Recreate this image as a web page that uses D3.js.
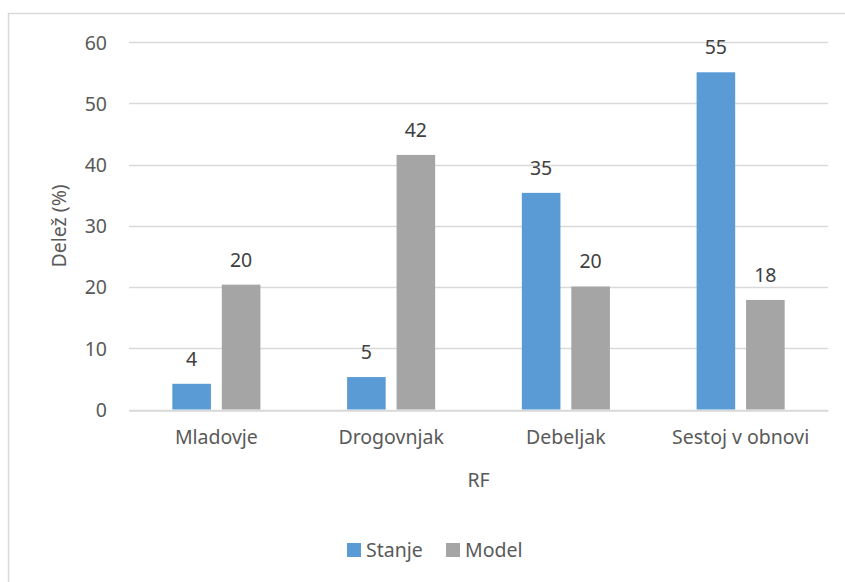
<!DOCTYPE html>
<html>
<head>
<meta charset="utf-8">
<script src="https://cdn.jsdelivr.net/npm/d3@7"></script>
<style>
  body { margin: 0; background: #fff; }
  svg text { font-family: "Noto Sans", "Open Sans", sans-serif; fill: #595959; }
</style>
</head>
<body>
<svg width="845" height="582"></svg>
<script>
// data
var categories = ["Mladovje", "Drogovnjak", "Debeljak", "Sestoj v obnovi"];
var series = ["Stanje", "Model"];
var stanje = [4.2, 5.3, 35.4, 55.1];
var model = [20.4, 41.6, 20.1, 17.9];
var yTicks = [0, 10, 20, 30, 40, 50, 60];

var colours = { "Stanje": "#5b9bd5", "Model": "#a5a5a5" };

var svg = d3.select("svg"),
    width = +svg.attr("width"),
    height = +svg.attr("height");

var fontSize = "19.5px";

// chart border (right and bottom edges fall outside the picture)
svg.append("rect")
    .attr("x", 8.5).attr("y", 13.5)
    .attr("width", 900).attr("height", 700)
    .attr("fill", "none")
    .attr("stroke", "#d9d9d9")
    .attr("stroke-width", 1.5);

var plotLeft = 129, plotRight = 828, plotTop = 42.3, plotBottom = 409.5;

var x0 = d3.scaleBand()
    .domain(categories)
    .range([plotLeft, plotRight]);

var x1 = d3.scaleBand()
    .domain(series)
    .range([x0.bandwidth() * 0.248, x0.bandwidth() * 0.752])
    .paddingInner(0.22);

var y = d3.scaleLinear()
    .domain([0, 60])
    .range([plotBottom, plotTop]);

// gridlines
svg.append("g")
    .selectAll("line")
    .data(yTicks)
    .enter()
    .append("line")
        .attr("x1", plotLeft).attr("x2", plotRight)
        .attr("y1", d => Math.round(y(d)) + 0.5)
        .attr("y2", d => Math.round(y(d)) + 0.5)
        .attr("stroke", "#d9d9d9")
        .attr("stroke-width", 1.3);

// y tick labels
var yAxis = d3.axisLeft(y).tickValues(yTicks).tickSize(0).tickPadding(0);
var gy = svg.append("g")
    .attr("transform", "translate(107,0)")
    .call(yAxis);
gy.select(".domain").remove();
gy.selectAll("text")
    .style("font-size", fontSize)
    .attr("fill", "#595959")
    .attr("dy", "0.35em");

// rows of bars
var rows = categories.map((c, i) => ({ cat: c, values: [
    { key: "Stanje", value: stanje[i] },
    { key: "Model", value: model[i] }
] }));

var groups = svg.append("g")
    .selectAll("g")
    .data(rows)
    .enter()
    .append("g")
        .attr("transform", d => "translate(" + x0(d.cat) + ",0)");

groups.selectAll("rect")
    .data(d => d.values)
    .enter()
    .append("rect")
        .attr("x", d => x1(d.key))
        .attr("width", x1.bandwidth())
        .attr("y", d => y(d.value))
        .attr("height", d => y(0) - y(d.value))
        .attr("fill", d => colours[d.key]);

// data labels
groups.selectAll("text.lbl")
    .data(d => d.values)
    .enter()
    .append("text")
        .attr("class", "lbl")
        .attr("x", d => x1(d.key) + x1.bandwidth() / 2)
        .attr("y", d => y(d.value) - 18)
        .attr("text-anchor", "middle")
        .style("font-size", fontSize)
        .style("fill", "#404040")
        .text(d => d3.format(".0f")(d.value));

// x axis
var xAxis = d3.axisBottom(x0).tickSize(0).tickPadding(20);
var gx = svg.append("g")
    .attr("transform", "translate(0," + (Math.round(plotBottom) + 0.5) + ")")
    .call(xAxis);
gx.select(".domain")
    .attr("stroke", "#d9d9d9")
    .attr("stroke-width", 1.3);
gx.selectAll("text")
    .style("font-size", fontSize)
    .attr("fill", "#595959");

// axis titles
svg.append("text")
    .attr("transform", "translate(66," + ((plotTop + plotBottom) / 2) + ") rotate(-90)")
    .attr("text-anchor", "middle")
    .style("font-size", fontSize)
    .text("Delež (%)");

svg.append("text")
    .attr("x", (plotLeft + plotRight) / 2)
    .attr("y", 487)
    .attr("text-anchor", "middle")
    .style("font-size", fontSize)
    .text("RF");

// legend
var legend = svg.append("g")
    .attr("transform", "translate(347,543)");

var lx = [0, 99];
series.forEach(function(s, i) {
    legend.append("rect")
        .attr("x", lx[i]).attr("y", 0)
        .attr("width", 14).attr("height", 14)
        .attr("fill", colours[s]);
    legend.append("text")
        .attr("x", lx[i] + 19).attr("y", 14)
        .style("font-size", fontSize)
        .text(s);
});
</script>
</body>
</html>
